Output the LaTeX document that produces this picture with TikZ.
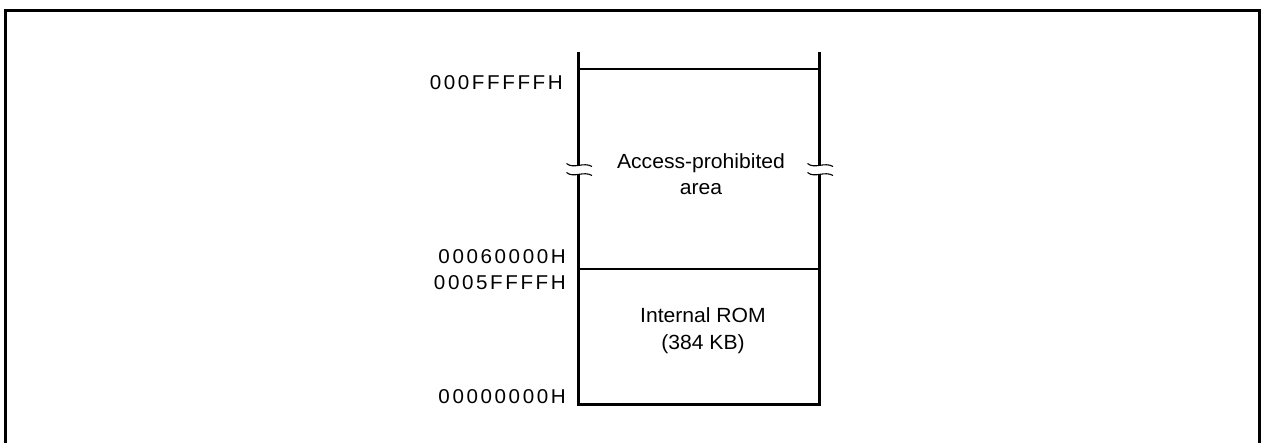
\documentclass[tikz,border=0pt]{standalone}
\usepackage{fontspec}
\setmainfont{Liberation Sans}[FakeStretch=1.03]
\begin{document}
\begin{tikzpicture}[x=1pt,y=-1pt,
  frame/.style={line width=3pt},
  wall/.style={line width=2.6pt},
  divider/.style={line width=1.2pt},
  brk/.style={line width=1.1pt},
  area/.style={font=\fontsize{20.5}{26.5}\selectfont, align=center, inner sep=0pt},
  addr/.style={font=\fontsize{20}{22}\selectfont\addfontfeature{LetterSpace=13}, anchor=east, inner sep=0pt}]
\useasboundingbox (0,0) rectangle (1261,443);
% outer frame (open at bottom)
\coordinate (fbl) at (5.5,443);
\coordinate (ftl) at (5.5,10.5);
\coordinate (ftr) at (1259.5,10.5);
\coordinate (fbr) at (1259.5,443);
\draw[frame] (fbl) -- (ftl) -- (ftr) -- (fbr);
% column coordinates
\coordinate (lt) at (578.5,52);
\coordinate (rt) at (819.5,52);
\coordinate (lb) at (578.5,404.5);
\coordinate (rb) at (819.5,404.5);
\coordinate (lbrk1) at (578.5,165.5);
\coordinate (lbrk2) at (578.5,174.5);
\coordinate (rbrk1) at (819.5,165.5);
\coordinate (rbrk2) at (819.5,174.5);
\draw[wall] (lt) -- (lbrk1);
\draw[wall] (rt) -- (rbrk1);
\draw[wall] (lbrk2) -- (lb) -- (rb) -- (rbrk2);
% break marks
\foreach \c in {lbrk1,lbrk2,rbrk1,rbrk2}{
  \draw[brk] ([xshift=-12pt,yshift=2pt]\c) .. controls ([xshift=-5pt,yshift=-4pt]\c) and ([xshift=5pt,yshift=4pt]\c) .. ([xshift=13.5pt,yshift=-1pt]\c);
}
% dividers
\coordinate (d1l) at (578.5,69);
\coordinate (d1r) at (819.5,69);
\coordinate (d2l) at (578.5,269);
\coordinate (d2r) at (819.5,269);
\draw[divider] (d1l) -- (d1r);
\draw[divider] (d2l) -- (d2r);
% area labels
\node[area] (apa) at (701,174) {Access-prohibited\\area};
\node[area] (rom) at (703,330.5) {Internal ROM\\(384 KB)};
% addresses
\node[addr] (a1) at (563,83) {000FFFFFH};
\node[addr] (a2) at (566,257) {00060000H};
\node[addr] (a3) at (566,283) {0005FFFFH};
\node[addr] (a4) at (566,397) {00000000H};
\end{tikzpicture}
\end{document}
